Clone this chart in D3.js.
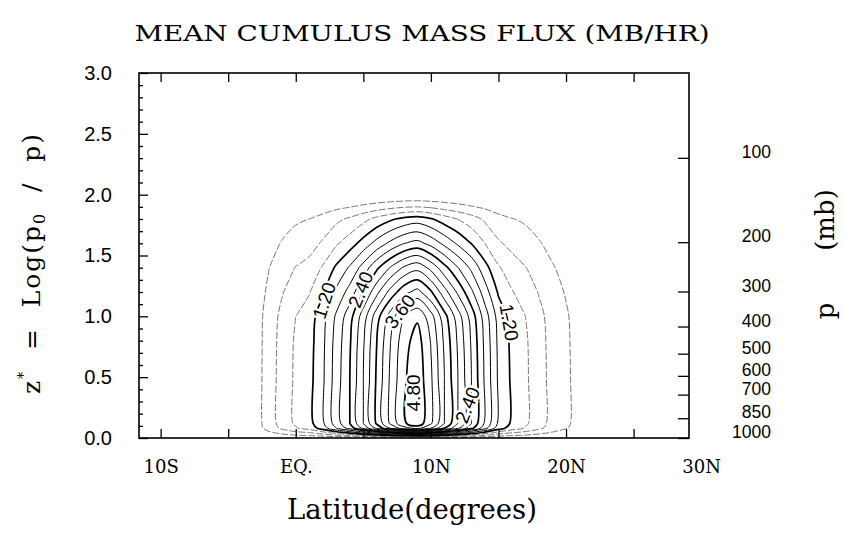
<!DOCTYPE html>
<html>
<head>
<meta charset="utf-8">
<script src="https://cdn.jsdelivr.net/npm/d3@7"></script>
<style>
  body { margin: 0; background: #fff; }
  svg { display: block; }
  .serif { font-family: "DejaVu Serif", serif; fill: #000; }
  .sans { font-family: "Liberation Sans", Arial, sans-serif; fill: #000; }
  .axis path { display: none; }
  .axis line { stroke: #000; stroke-width: 1.3; }
</style>
</head>
<body>
<div id="chart"></div>
<script>
// grid of the field: latitude columns, z* rows
const lat_grid = [-4, -3, -2, -1, 0, 1, 2, 3, 4, 5, 6, 7, 8, 9, 10, 11, 12,
                  13, 14, 15, 16, 17, 18, 19, 20, 21, 22, 23, 24];
const z_grid = [0, 0.02, 0.045, 0.08, 0.12, 0.5, 0.8, 1.0, 1.2, 1.4, 1.6, 1.8, 1.9, 2.0, 2.3];

// mean cumulus mass flux (mb/hr), one row per z_grid level
const flux_grid = [
  [0,0,0,0,0,0,0,0,0,0,0,0,0,0,0,0,0,0,0,0,0,0,0,0,0,0,0,0,0],
  [0,0.04,0.12,0.19,0.26,0.30,0.39,0.53,0.65,0.81,0.99,1.15,1.28,1.35,1.23,1.05,0.89,0.73,0.55,0.39,0.31,0.26,0.19,0.14,0.09,0.05,0.01,0,0],
  [0,0.08,0.25,0.40,0.52,0.61,0.80,1.07,1.32,1.65,2.01,2.34,2.61,2.75,2.50,2.15,1.82,1.49,1.13,0.80,0.63,0.52,0.40,0.28,0.19,0.11,0.03,0,0],
  [0,0.14,0.41,0.66,0.87,1.01,1.33,1.79,2.21,2.76,3.36,3.91,4.37,4.60,4.19,3.59,3.04,2.48,1.89,1.33,1.06,0.87,0.66,0.46,0.32,0.18,0.05,0,0],
  [0,0.15,0.45,0.72,0.95,1.10,1.45,1.95,2.40,3.00,3.65,4.25,4.75,5.00,4.55,3.90,3.30,2.70,2.05,1.45,1.15,0.95,0.72,0.50,0.35,0.20,0.05,0,0],
  [0,0.15,0.45,0.72,0.95,1.10,1.45,1.95,2.40,3.00,3.65,4.25,4.75,5.00,4.55,3.90,3.30,2.70,2.05,1.45,1.15,0.95,0.72,0.50,0.35,0.20,0.05,0,0],
  [0,0.15,0.44,0.71,0.94,1.08,1.43,1.92,2.36,2.96,3.60,4.19,4.68,4.93,4.48,3.84,3.25,2.66,2.02,1.43,1.13,0.94,0.71,0.49,0.34,0.20,0.05,0,0],
  [0,0.14,0.43,0.68,0.90,1.05,1.38,1.85,2.28,2.85,3.47,4.04,4.51,4.75,4.32,3.71,3.14,2.57,1.95,1.38,1.09,0.90,0.68,0.48,0.33,0.19,0.05,0,0],
  [0,0.12,0.36,0.58,0.76,0.88,1.16,1.56,1.92,2.40,2.92,3.40,3.80,4.00,3.64,3.12,2.64,2.16,1.64,1.16,0.92,0.76,0.58,0.40,0.28,0.16,0.04,0,0],
  [0,0.10,0.29,0.46,0.61,0.70,0.93,1.25,1.54,1.92,2.34,2.72,3.04,3.20,2.91,2.50,2.11,1.73,1.31,0.93,0.74,0.61,0.46,0.32,0.22,0.13,0.03,0,0],
  [0,0.07,0.20,0.32,0.42,0.48,0.64,0.86,1.06,1.32,1.61,1.87,2.09,2.20,2.00,1.72,1.45,1.19,0.90,0.64,0.51,0.42,0.32,0.22,0.15,0.09,0.02,0,0],
  [0,0.04,0.12,0.19,0.26,0.30,0.39,0.53,0.65,0.81,0.99,1.15,1.28,1.35,1.23,1.05,0.89,0.73,0.55,0.39,0.31,0.26,0.19,0.14,0.09,0.05,0.01,0,0],
  [0,0.02,0.05,0.09,0.11,0.13,0.17,0.23,0.29,0.36,0.44,0.51,0.57,0.60,0.55,0.47,0.40,0.32,0.25,0.17,0.14,0.11,0.09,0.06,0.04,0.02,0.01,0,0],
  [0,0,0,0,0,0,0,0,0,0,0,0,0,0,0,0,0,0,0,0,0,0,0,0,0,0,0,0,0],
  [0,0,0,0,0,0,0,0,0,0,0,0,0,0,0,0,0,0,0,0,0,0,0,0,0,0,0,0,0]
];

const contour_levels = [0.3, 0.6, 0.9, 1.2, 1.5, 1.8, 2.1, 2.4, 2.7, 3.0, 3.3, 3.6, 3.9, 4.2, 4.5, 4.8];
const labeled_levels = [1.2, 2.4, 3.6, 4.8];

// contour labels: text, latitude, z*, angle
const label_texts  = ["1.20", "2.40", "3.60", "4.80", "2.40", "1.20"];
const label_lats   = [2.1, 4.8, 7.7, 8.7, 12.7, 15.8];
const label_zs     = [1.13, 1.22, 1.04, 0.37, 0.27, 0.95];
const label_angles = [-72, -68, -52, -90, -68, 80];

const lat_ticks = [-10, -5, 0, 5, 10, 15, 20, 25];
const lat_label_values = [-10, 0, 10, 20, 30];
const lat_labels = ["10S", "EQ.", "10N", "20N", "30N"];
const z_major = [0, 0.5, 1.0, 1.5, 2.0, 2.5, 3.0];
const z_minor = [0.1, 0.2, 0.3, 0.4, 0.6, 0.7, 0.8, 0.9, 1.1, 1.2, 1.3, 1.4, 1.6, 1.7, 1.8, 1.9,
                 2.1, 2.2, 2.3, 2.4, 2.6, 2.7, 2.8, 2.9];
const p_levels = [100, 200, 300, 400, 500, 600, 700, 850, 1000];

const chart = {
  width: 845,
  height: 550,
  left: 139,
  right: 689,
  top: 73,
  bottom: 438
};

const svg = d3.select("#chart")
  .append("svg")
    .attr("width", chart.width)
    .attr("height", chart.height);

const x = d3.scaleLinear().domain([-11.6, 29.1]).range([chart.left, chart.right]);
const y = d3.scaleLinear().domain([0, 3]).range([chart.bottom, chart.top]);
const p_scale = d3.scaleLog().domain([1000, 1000 * Math.exp(-3)]).range([chart.bottom, chart.top]);

// grid index -> data coordinates (piecewise linear)
const idx_to_lat = d3.scaleLinear().domain(lat_grid.map((d, i) => i)).range(lat_grid);
const idx_to_z = d3.scaleLinear().domain(z_grid.map((d, i) => i)).range(z_grid);

svg.append("clipPath")
  .attr("id", "plot-clip")
  .append("rect")
    .attr("x", chart.left)
    .attr("y", chart.top)
    .attr("width", chart.right - chart.left)
    .attr("height", chart.bottom - chart.top);

function draw_contours() {
  const contours = d3.contours()
    .size([lat_grid.length, z_grid.length])
    .thresholds(contour_levels)(flux_grid.flat());

  const ring_line = d3.line()
    .x(p => x(idx_to_lat(p[0] - 0.5)))
    .y(p => y(idx_to_z(p[1] - 0.5)))
    .curve(d3.curveCatmullRomClosed.alpha(0.5));

  const rings = [];
  contours.forEach(c => {
    c.coordinates.forEach(poly => {
      poly.forEach(ring => rings.push({ value: c.value, points: ring.slice(0, -1) }));
    });
  });

  const is_labeled = (v) => labeled_levels.some(l => Math.abs(l - v) < 1e-6);

  svg.append("g")
    .attr("clip-path", "url(#plot-clip)")
    .selectAll("path")
    .data(rings)
    .join("path")
      .attr("d", d => ring_line(d.points))
      .attr("fill", "none")
      .attr("stroke", d => d.value < 1.15 ? "#555" : "#000")
      .attr("stroke-width", d => is_labeled(d.value) ? 1.7 : (d.value < 1.15 ? 0.8 : 1.0))
      .attr("stroke-dasharray", d => d.value < 1.15 ? "7,2" : null);
}

function draw_labels() {
  const labels = label_texts.map((t, i) => ({
    text: t, lat: label_lats[i], z: label_zs[i], angle: label_angles[i]
  }));
  svg.append("g")
    .selectAll("text")
    .data(labels)
    .join("text")
      .attr("class", "sans")
      .attr("transform", d => `translate(${x(d.lat)},${y(d.z)}) rotate(${d.angle})`)
      .attr("text-anchor", "middle")
      .attr("dy", "0.35em")
      .attr("font-size", 19)
      .attr("stroke", "#fff")
      .attr("stroke-width", 5)
      .attr("paint-order", "stroke")
      .text(d => d.text);
}

function draw_axes() {
  // left: minor and major ticks pointing inward
  svg.append("g")
    .attr("class", "axis")
    .attr("transform", `translate(${chart.left},0)`)
    .call(d3.axisLeft(y).tickValues(z_minor).tickSize(-4).tickFormat(""));
  svg.append("g")
    .attr("class", "axis sans")
    .attr("transform", `translate(${chart.left},0)`)
    .call(d3.axisLeft(y).tickValues(z_major).tickSize(-9).tickPadding(27).tickFormat(d3.format(".1f")))
    .selectAll("text")
      .attr("font-size", 20)
      .attr("font-family", "Liberation Sans, Arial, sans-serif");

  // right: pressure levels
  const right_axis = svg.append("g")
    .attr("class", "axis")
    .attr("transform", `translate(${chart.right},0)`)
    .call(d3.axisRight(p_scale).tickValues(p_levels).tickSize(-11).tickFormat(d3.format("d")));
  right_axis.selectAll("text")
    .attr("x", 82)
    .attr("dy", "-0.02em")
    .attr("text-anchor", "end")
    .attr("font-size", 17.5)
    .attr("font-family", "Liberation Sans, Arial, sans-serif");

  // top and bottom latitude ticks
  svg.append("g")
    .attr("class", "axis")
    .attr("transform", `translate(0,${chart.top})`)
    .call(d3.axisTop(x).tickValues(lat_ticks).tickSize(-9).tickFormat(""));
  svg.append("g")
    .attr("class", "axis")
    .attr("transform", `translate(0,${chart.bottom})`)
    .call(d3.axisBottom(x).tickValues(lat_ticks).tickSize(-9).tickFormat(""));
  svg.append("g")
    .attr("class", "axis")
    .attr("transform", `translate(0,${chart.bottom})`)
    .call(d3.axisBottom(x).tickValues(lat_label_values).tickSize(0).tickPadding(22)
      .tickFormat((d, i) => lat_labels[i]))
    .selectAll("text")
      .attr("font-size", 18)
      .attr("font-family", "DejaVu Serif, serif");

  // frame
  svg.append("rect")
    .attr("x", chart.left)
    .attr("y", chart.top)
    .attr("width", chart.right - chart.left)
    .attr("height", chart.bottom - chart.top)
    .attr("fill", "none")
    .attr("stroke", "#000")
    .attr("stroke-width", 1.6);
}

// stretch a text to a target length with letter spacing
function fit_text(sel, target) {
  const len = sel.node().getComputedTextLength();
  const n = sel.text().length;
  sel.attr("letter-spacing", ((target - len) / n).toFixed(2));
}

function draw_titles() {
  svg.append("text")
    .attr("class", "serif")
    .attr("x", 422)
    .attr("y", 41)
    .attr("text-anchor", "middle")
    .attr("font-size", 22)
    .attr("textLength", 575)
    .attr("lengthAdjust", "spacingAndGlyphs")
    .text("MEAN CUMULUS MASS FLUX (MB/HR)");

  svg.append("text")
    .attr("class", "serif")
    .attr("x", 412)
    .attr("y", 519)
    .attr("text-anchor", "middle")
    .attr("font-size", 27.5)
    .text("Latitude(degrees)");

  const y_label = svg.append("text")
    .attr("class", "serif")
    .attr("transform", "translate(40,263) rotate(-90)")
    .attr("text-anchor", "middle")
    .attr("font-size", 25)
    .style("white-space", "pre");
  y_label.append("tspan").text("z");
  y_label.append("tspan").attr("font-size", 14).attr("dy", -12).text("*");
  y_label.append("tspan").attr("dy", 12).text("  =  Log(p");
  y_label.append("tspan").attr("font-size", 16).attr("dy", 5).text("0");
  y_label.append("tspan").attr("dy", -5).text("  /  p)");
  fit_text(y_label, 262);

  svg.append("text")
    .attr("class", "serif")
    .attr("transform", "translate(834,220) rotate(-90)")
    .attr("text-anchor", "middle")
    .attr("font-size", 26)
    .text("(mb)");
  svg.append("text")
    .attr("class", "serif")
    .attr("transform", "translate(834,311) rotate(-90)")
    .attr("text-anchor", "middle")
    .attr("font-size", 26)
    .text("p");
}

draw_contours();
draw_labels();
draw_axes();
draw_titles();
</script>
</body>
</html>
